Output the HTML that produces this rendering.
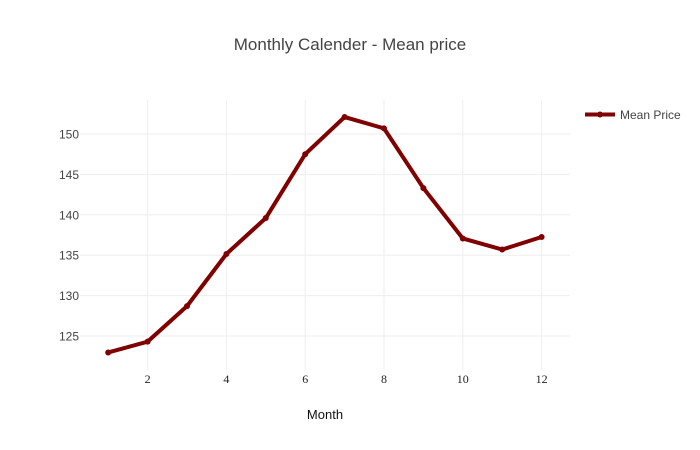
<!DOCTYPE html>
<html>
<head>
<meta charset="utf-8">
<style>
html,body{margin:0;padding:0;background:#fff;width:700px;height:450px;overflow:hidden}
svg{display:block}
text{font-family:"Liberation Sans",sans-serif}
</style>
</head>
<body>
<svg id="chart" width="700" height="450" viewBox="0 0 700 450" xmlns="http://www.w3.org/2000/svg">
  <rect x="0" y="0" width="700" height="450" fill="#fff"/>
  <g id="grid"></g>
  <g id="xticks"></g>
  <g id="yticks"></g>
  <g id="series"></g>
  <text x="350" y="50" text-anchor="middle" font-size="17" fill="#444">Monthly Calender - Mean price</text>
  <text x="325" y="419" text-anchor="middle" font-size="13" fill="#111">Month</text>
  <g>
    <line x1="585" y1="114.5" x2="615" y2="114.5" stroke="#800000" stroke-width="4"/>
    <circle cx="600" cy="114.5" r="3" fill="#800000"/>
    <text x="620" y="119" font-size="12" fill="#444">Mean Price</text>
  </g>
</svg>
<script>
var months = [1, 2, 3, 4, 5, 6, 7, 8, 9, 10, 11, 12];
var meanPrice = [122.96, 124.3, 128.7, 135.15, 139.6, 147.5, 152.1, 150.7, 143.3, 137.07, 135.7, 137.25];
var xTickValues = [2, 4, 6, 8, 10, 12];
var yTickValues = [125, 130, 135, 140, 145, 150];

var NS = 'http://www.w3.org/2000/svg';
function xScale(v) { return 147.6 + (v - 2) * 39.4; }
function yScale(v) { return 134 + (150 - v) * 8.08; }
function make(tag, attrs, parent) {
  var el = document.createElementNS(NS, tag);
  for (var k in attrs) el.setAttribute(k, attrs[k]);
  parent.appendChild(el);
  return el;
}
var grid = document.getElementById('grid');
var xticks = document.getElementById('xticks');
var yticks = document.getElementById('yticks');
var series = document.getElementById('series');

xTickValues.forEach(function (v) {
  var line = make('line', {x1: xScale(v), x2: xScale(v), y1: 100, y2: 370, stroke: '#eee', 'stroke-width': 1}, grid);
  
  
  var label = make('text', {x: xScale(v), y: 383, 'text-anchor': 'middle', 'font-size': 12, fill: '#222'}, xticks);
  label.setAttribute('style', 'font-family:"Liberation Serif",serif');
  
  
  label.textContent = v;
});
yTickValues.forEach(function (v) {
  var line = make('line', {x1: 80, x2: 570, y1: yScale(v), y2: yScale(v), stroke: '#eee', 'stroke-width': 1}, grid);
  
  
  var label = make('text', {x: 79, y: yScale(v) + 4.5, 'text-anchor': 'end', 'font-size': 12, fill: '#444'}, yticks);
  
  
  label.textContent = v;
});

var pts = months.map(function (m, i) { return xScale(m) + ',' + yScale(meanPrice[i]); }).join(' ');
var path = make('polyline', {points: pts, fill: 'none', stroke: '#800000', 'stroke-width': 4, 'stroke-linejoin': 'miter'}, series);


months.forEach(function (m, i) {
  var c = make('circle', {cx: xScale(m), cy: yScale(meanPrice[i]), r: 3, fill: '#800000'}, series);
  
  
});
</script>
</body>
</html>
